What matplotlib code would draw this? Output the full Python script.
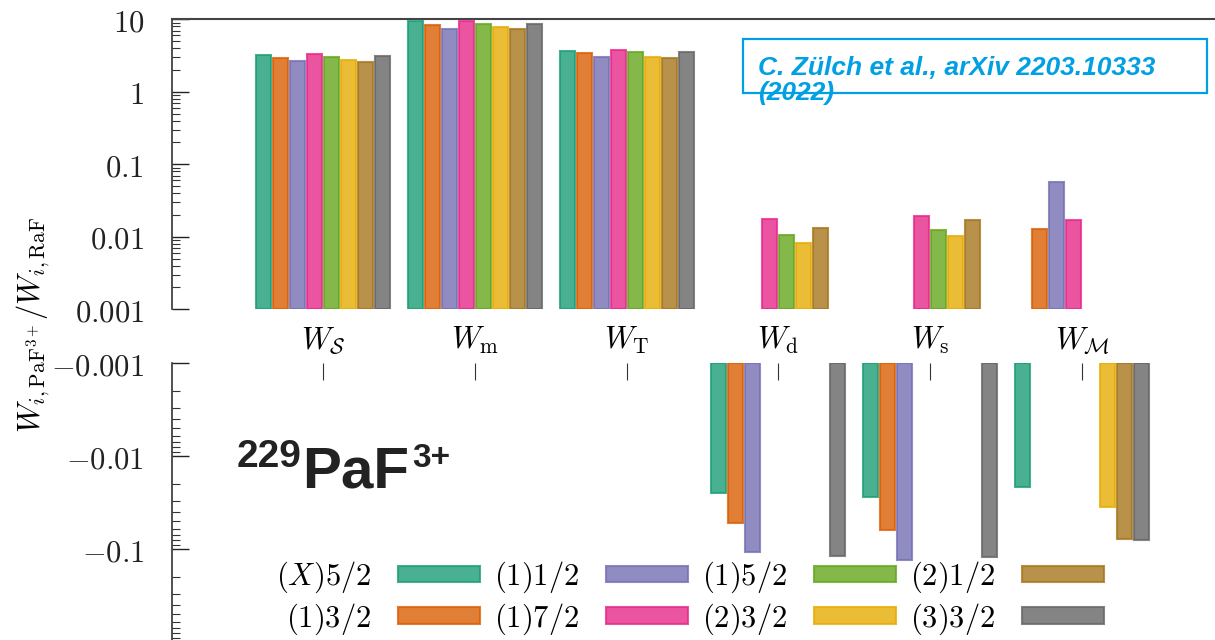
import matplotlib.pyplot as plt
import matplotlib.patches as mpatches
from matplotlib.ticker import LogLocator, NullFormatter
import numpy as np

plt.rcParams['mathtext.fontset'] = 'cm'
plt.rcParams['font.family'] = ['DejaVu Serif']

# величины (группы по оси x)
groups = [r"$W_{\mathcal{S}}$", r"$W_{\rm m}$", r"$W_{\rm T}$",
          r"$W_{\rm d}$", r"$W_{\rm s}$", r"$W_{\mathcal{M}}$"]

# состояния и отношения W_i(PaF3+)/W_i(RaF), со знаком
states = [r"$(X)5/2$", r"$(1)3/2$", r"$(1)1/2$", r"$(1)7/2$",
          r"$(1)5/2$", r"$(2)3/2$", r"$(2)1/2$", r"$(3)3/2$"]
x52 = [3.22, 9.40, 3.69, -0.0246, -0.0276, -0.0215]
s132 = [2.95, 8.35, 3.40, -0.0518, -0.0625, 0.0128]
s112 = [2.66, 7.28, 3.05, -0.108, -0.130, 0.0575]
s172 = [3.32, 9.57, 3.73, 0.0178, 0.0195, 0.0171]
s152 = [3.05, 8.61, 3.51, 0.0106, 0.0124, np.nan]
s232 = [2.75, 7.76, 3.05, 0.0083, 0.0104, -0.0348]
s212 = [2.60, 7.35, 2.95, 0.0134, 0.0172, -0.078]
s332 = [3.15, 8.69, 3.57, -0.118, -0.122, -0.0795]
series = [x52, s132, s112, s172, s152, s232, s212, s332]

colors = ["#1b9e77", "#d95f02", "#7570b3", "#e7298a",
          "#66a61e", "#e6ab02", "#a6761d", "#666666"]

W, H = 1215, 640
fig = plt.figure(figsize=(W / 100, H / 100), dpi=100)

def fx(px):
    return px / W

def fy(py):
    return 1 - py / H

left = fx(171.7)
ax1 = fig.add_axes([left, fy(309.3), 1 - left, fy(19.3) - fy(309.3)])
ax2 = fig.add_axes([left, 0, 1 - left, fy(363.3)])

xg = np.arange(len(groups))
step = 0.112
base = 0.001

for i, (vals, col, lab) in enumerate(zip(series, colors, states)):
    v = np.array(vals, dtype=float)
    xpos = xg + (i - 3.5) * step
    pos = np.where(v > 0, v, np.nan)
    neg = np.where(v < 0, -v, np.nan)
    ax1.bar(xpos, pos - base, bottom=base, width=0.098, color=col,
            alpha=0.8, edgecolor=col, linewidth=1.5, label=lab)
    ax2.bar(xpos, neg - base, bottom=base, width=0.098, color=col,
            alpha=0.8, edgecolor=col, linewidth=1.5)

xl = (-0.997, 5.876)
for ax in (ax1, ax2):
    ax.set_yscale('log')
    ax.set_xlim(*xl)
    ax.spines['right'].set_visible(False)
    ax.spines['bottom'].set_visible(False)
    ax.spines['left'].set_color('#333333')
    ax.spines['left'].set_linewidth(1.2)
    ax.yaxis.set_minor_locator(LogLocator(base=10, subs=np.arange(2, 10)))
    ax.yaxis.set_minor_formatter(NullFormatter())
    ax.tick_params(axis='y', which='major', direction='in', length=12,
                   width=1, pad=20, labelsize=22, colors='#222222')
    ax.tick_params(axis='y', which='minor', direction='in', length=6,
                   width=0.8, colors='#333333')
    ax.patch.set_alpha(0)

# верхняя панель
ax1.set_ylim(0.001, 10)
ax1.set_yticks([0.001, 0.01, 0.1, 1, 10])
ax1.set_yticklabels([r"$0.001$", r"$0.01$", r"$0.1$", r"$1$", r"$10$"])
ax1.spines['top'].set_color('#444444')
ax1.spines['top'].set_linewidth(1.5)
ax1.set_xticks(xg)
ax1.set_xticklabels(groups)
ax1.tick_params(axis='x', length=0, pad=11, labelsize=22)

# нижняя панель (отрицательные значения)
ax2.set_ylim(0.944, 0.001)
ax2.set_yticks([0.001, 0.01, 0.1])
ax2.set_yticklabels([r"$-0.001$", r"$-0.01$", r"$-0.1$"])
ax2.spines['top'].set_visible(False)
ax2.xaxis.tick_top()
ax2.set_xticks(xg)
ax2.set_xticklabels([])
ax2.tick_params(axis='x', direction='in', length=12, width=0.8, colors='#333333')

# подпись оси y
fig.text(fx(33), fy(325), r"$W_{i,\mathrm{PaF}^{3+}}/W_{i,\mathrm{RaF}}$",
         rotation=90, ha='center', va='center', fontsize=22)

# легенда
h, l = ax1.get_legend_handles_labels()
fig.legend(h, l, ncol=4, loc='center', bbox_to_anchor=(fx(690), fy(598)),
           frameon=False, markerfirst=False, fontsize=22, handlelength=2.68,
           handleheight=0.46, handletextpad=0.88, columnspacing=0.46,
           labelspacing=0.2, borderaxespad=0, borderpad=0)

# молекула
bold = dict(family='Liberation Sans', weight='bold', color='#222222')
fig.text(fx(237), fy(467), "229", fontsize=28, ha='left', va='baseline', **bold)
fig.text(fx(302), fy(487), "PaF", fontsize=42, ha='left', va='baseline', **bold)
fig.text(fx(412), fy(467), "3+", fontsize=24, ha='left', va='baseline', **bold)

# ссылка
blue = '#00a0e3'
fig.patches.append(mpatches.Rectangle((fx(742.5), fy(93)), fx(1207) - fx(742.5),
                                      fy(38.7) - fy(93), transform=fig.transFigure,
                                      fill=False, edgecolor=blue, linewidth=1.6))
fig.text(fx(758), fy(100), "C. Zülch et al., arXiv 2203.10333\n(2022)",
         fontsize=19, family='Liberation Sans', weight='bold', style='italic',
         color=blue, ha='left', va='baseline', linespacing=1.05)

fig.savefig("out.png", dpi=100)
